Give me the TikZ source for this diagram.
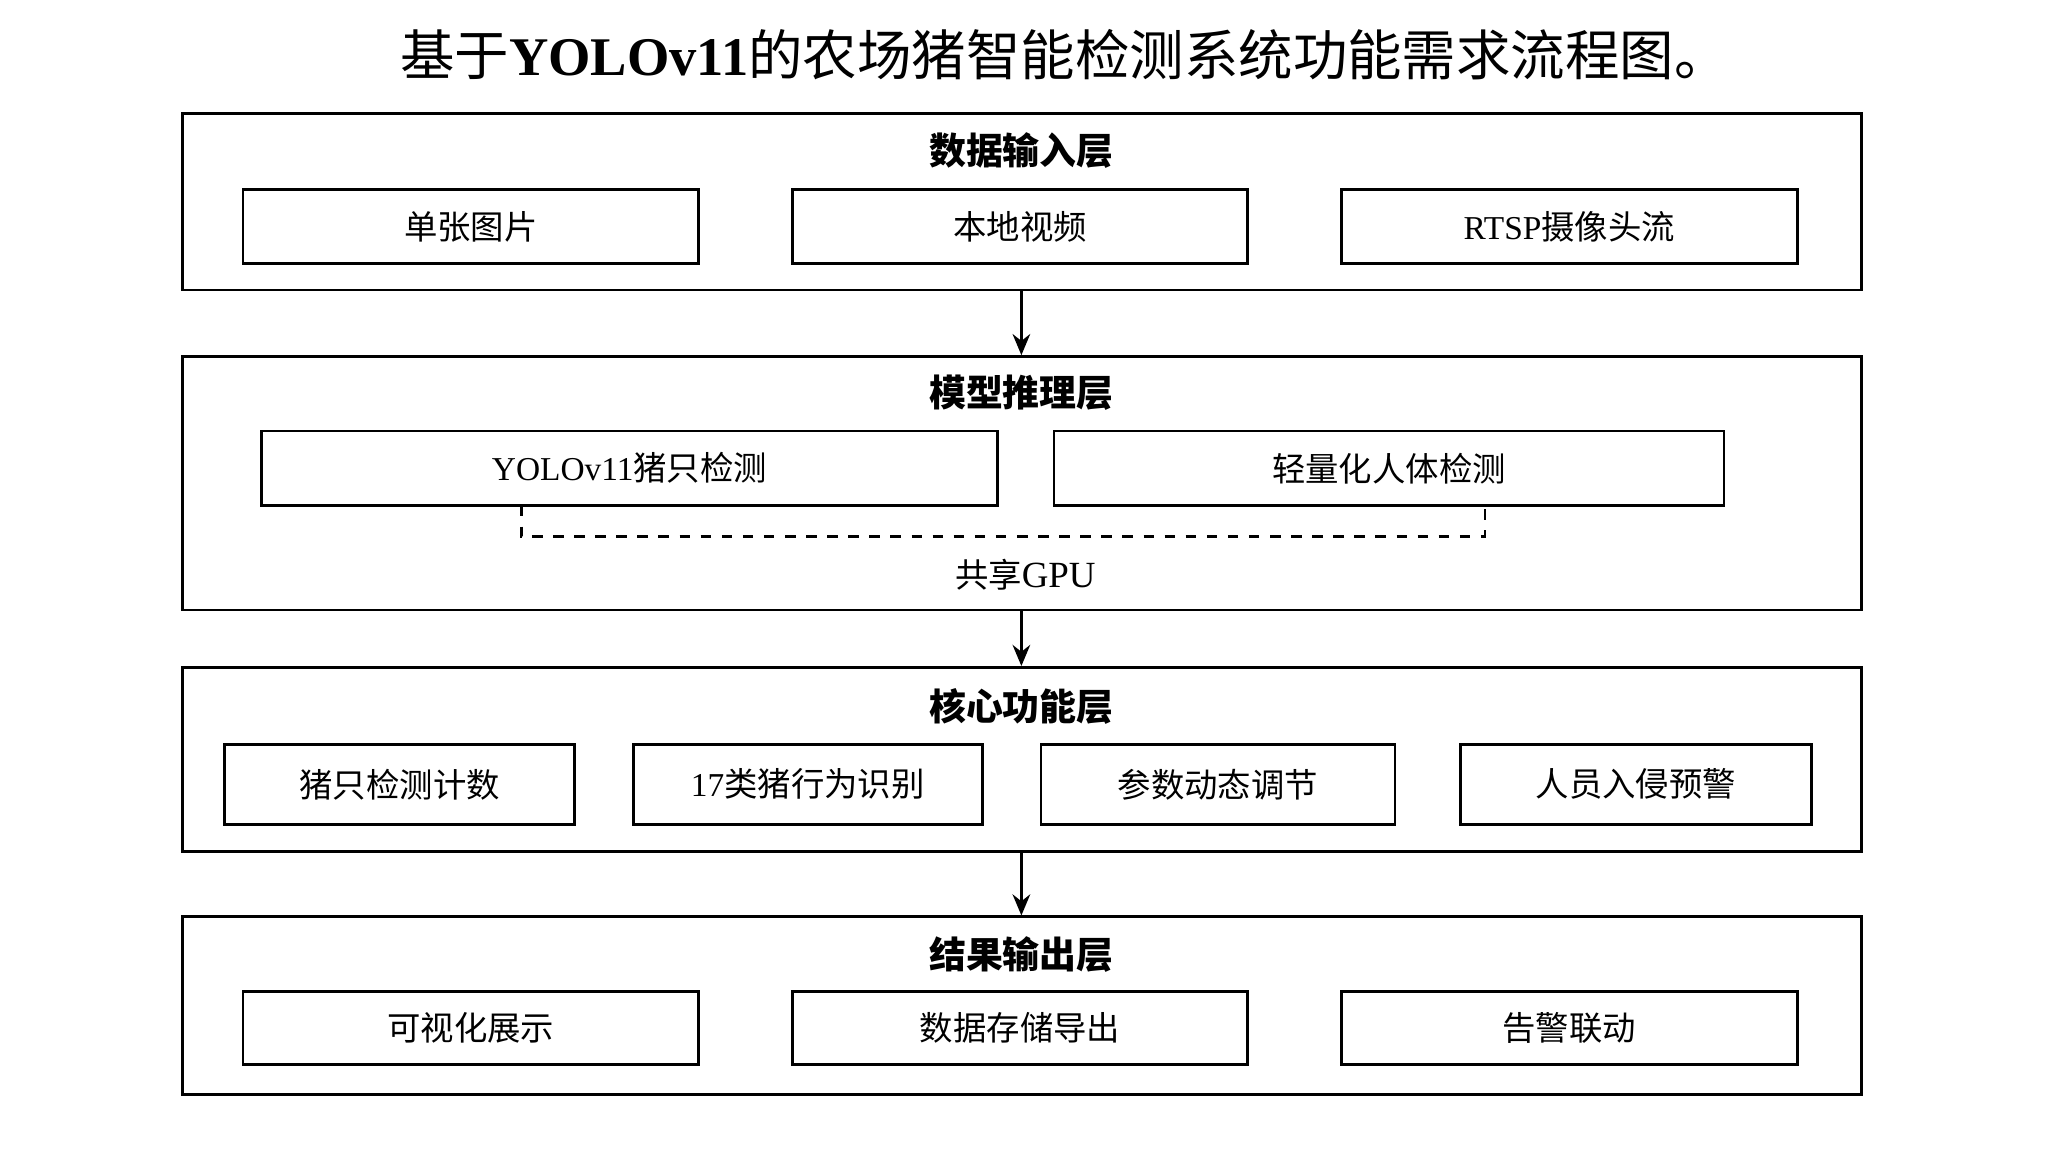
\documentclass[tikz,border=0pt]{standalone}
\usepackage{fontspec}
\setmainfont{Noto Sans CJK SC}
\newfontfamily\latin{Liberation Serif}
\usetikzlibrary{arrows.meta,positioning}
\begin{document}
\begin{tikzpicture}[
  x=0.01306cm, y=-0.01306cm, line width=0.8pt, >={Stealth[length=6pt,width=5pt]},
  layer/.style={draw=black, minimum width=1285*0.01306cm, inner sep=0pt},
  item/.style={draw=black, inner sep=0pt, font=\fontsize{9.5pt}{11pt}\selectfont},
  head/.style={font=\fontsize{10.5pt}{12pt}\selectfont\bfseries}
]
\useasboundingbox (0,0) rectangle (1568,882);

\node[font=\fontsize{15.5pt}{17pt}\selectfont] (title) at (815,42) {基于{\latin\bfseries YOLOv11}的农场猪智能检测系统功能需求流程图。};

% data input layer
\node[layer, minimum height=135*0.01306cm] (l1) at (782.5,154.5) {};
\node[head] (h1) at (782,115) {数据输入层};
\node[item, minimum width=349*0.01306cm, minimum height=57*0.01306cm] (i1) at (360.5,173.5) {单张图片};
\node[item, minimum width=348*0.01306cm, minimum height=57*0.01306cm] (i2) at (781,173.5) {本地视频};
\node[item, minimum width=349*0.01306cm, minimum height=57*0.01306cm] (i3) at (1201.5,173.5) {{\latin RTSP}摄像头流};

% model inference layer
\node[layer, minimum height=194*0.01306cm] (l2) at (782.5,370) {};
\node[head] (h2) at (782,301) {模型推理层};
\node[item, minimum width=564*0.01306cm, minimum height=57*0.01306cm] (m1) at (482,358.5) {{\latin YOLOv11}猪只检测};
\node[item, minimum width=513*0.01306cm, minimum height=57*0.01306cm] (m2) at (1063.5,358.5) {轻量化人体检测};
\coordinate (g1) at (399,387);
\coordinate (g2) at (1137,387);
\draw[dashed] (g1) -- ++(0,24) -| (g2);
\node[item, draw=none] (gpu) at (785,440) {共享{\latin\fontsize{10.5pt}{12pt}\selectfont GPU}};

% core function layer
\node[layer, minimum height=141*0.01306cm] (l3) at (782.5,581.5) {};
\node[head] (h3) at (782,541) {核心功能层};
\node[item, minimum width=268*0.01306cm, minimum height=61*0.01306cm] (c1) at (306,600.5) {猪只检测计数};
\node[item, minimum width=267*0.01306cm, minimum height=61*0.01306cm] (c2) at (618.5,600.5) {{\latin 17}类猪行为识别};
\node[item, minimum width=271*0.01306cm, minimum height=61*0.01306cm] (c3) at (932.5,600.5) {参数动态调节};
\node[item, minimum width=269*0.01306cm, minimum height=61*0.01306cm] (c4) at (1252.5,600.5) {人员入侵预警};

% result output layer
\node[layer, minimum height=136*0.01306cm] (l4) at (782.5,770) {};
\node[head] (h4) at (782,731) {结果输出层};
\node[item, minimum width=349*0.01306cm, minimum height=56*0.01306cm] (o1) at (360.5,787) {可视化展示};
\node[item, minimum width=348*0.01306cm, minimum height=56*0.01306cm] (o2) at (781,787) {数据存储导出};
\node[item, minimum width=349*0.01306cm, minimum height=56*0.01306cm] (o3) at (1201.5,787) {告警联动};

\draw[->] (l1.south -| h1) -- (l2.north -| h1);
\draw[->] (l2.south -| h1) -- (l3.north -| h1);
\draw[->] (l3.south -| h1) -- (l4.north -| h1);
\end{tikzpicture}
\end{document}
